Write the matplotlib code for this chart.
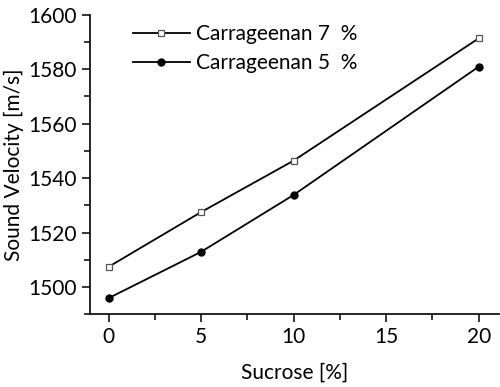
import matplotlib
matplotlib.use('Agg')
import matplotlib.pyplot as plt
from matplotlib.ticker import MultipleLocator

# sucrose content [%]
sucrose = [0, 5, 10, 20]
# sound velocity [m/s]
carr_7 = [1507.4, 1527.5, 1546.4, 1591.3]
carr_5 = [1495.9, 1512.9, 1533.8, 1580.9]
labels = ['Carrageenan 7  %', 'Carrageenan 5  %']

plt.rcParams['font.family'] = ['Lato', 'DejaVu Sans']

fig = plt.figure(figsize=(5.0, 3.87), dpi=100)
ax = fig.add_axes([0.18, 0.188, 0.818, 0.774])

ax.plot(sucrose, carr_7, color='black', lw=1.3, marker='s', ms=5,
        mfc='white', mec='#555555', mew=0.9, label=labels[0])
ax.plot(sucrose, carr_5, color='black', lw=1.3, marker='o', ms=5,
        mfc='black', mec='black', label=labels[1])

ax.set_xlim(-1, 21.1)
ax.set_ylim(1490, 1600)
ax.xaxis.set_major_locator(MultipleLocator(5))
ax.xaxis.set_minor_locator(MultipleLocator(2.5))
ax.yaxis.set_major_locator(MultipleLocator(20))
ax.yaxis.set_minor_locator(MultipleLocator(10))

for s in ['top', 'right']:
    ax.spines[s].set_visible(False)
for s in ['left', 'bottom']:
    ax.spines[s].set_linewidth(1.2)

ax.tick_params(which='major', direction='out', length=6, width=1.1, labelsize=15)
ax.tick_params(which='minor', direction='out', length=4, width=1.1)

ax.set_xlabel('Sucrose [%]', fontsize=15, labelpad=11)
ax.set_ylabel('Sound Velocity [m/s]', fontsize=15, labelpad=3)

ax.legend(loc='upper left', bbox_to_anchor=(0.06, 1.03), frameon=False,
          fontsize=15, handlelength=2.7, handletextpad=0.3, labelspacing=0.4)

fig.savefig('out.png', dpi=100)
